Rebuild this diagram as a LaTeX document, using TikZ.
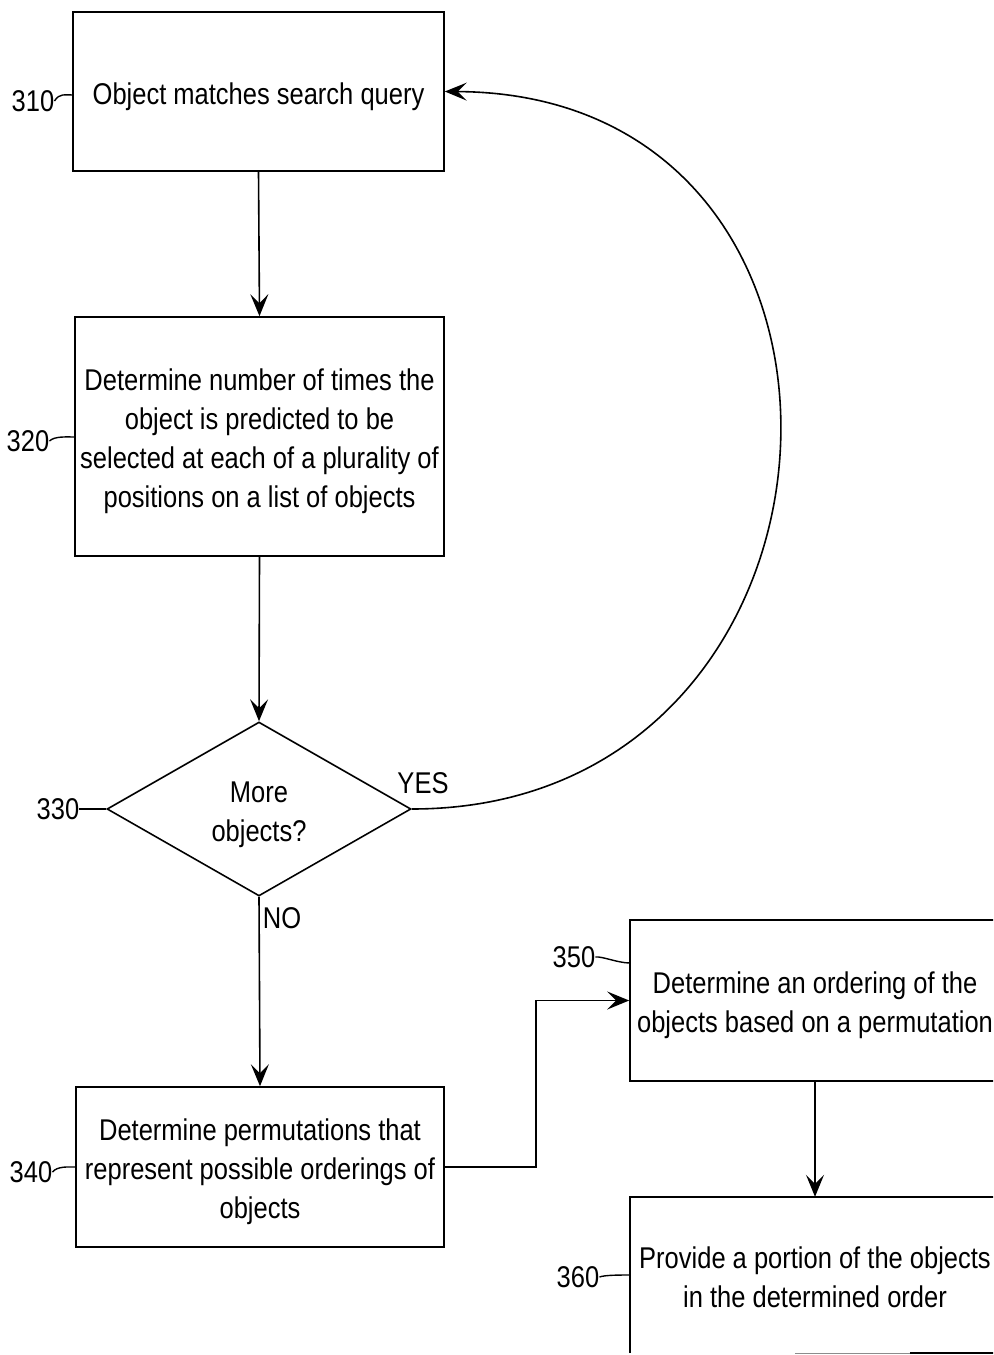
\documentclass[tikz,border=0pt]{standalone}
\usepackage{fontspec}
\setmainfont{Liberation Sans}[FakeStretch=0.85]
\usetikzlibrary{shapes.geometric,arrows.meta,calc}
\newcommand\boxtext[1]{\begin{tabular}{@{}c@{}}\rule{0pt}{37.3bp}#1\end{tabular}}
\begin{document}
\begin{tikzpicture}[x=1bp,y=-1bp,
  every node/.style={font=\fontsize{30bp}{39bp}\selectfont, inner sep=0pt},
  stepbox/.style={draw, line width=1.6bp, rectangle},
  decision/.style={draw, line width=1.6bp, diamond, aspect=1.747, minimum width=304bp, minimum height=174bp},
  conn/.style={line width=1.6bp},
  arr/.style={line width=1.6bp, -{Stealth[length=22bp,width=18bp,inset=9bp]}},
  lead/.style={line width=1.4bp}
]
\useasboundingbox (0,0) rectangle (993,1355);
\clip (0,0) rectangle (993,1355);

% boxes
\node[stepbox, minimum width=371bp, minimum height=159bp] (b310) at (258.5,91.5) {\boxtext{Object matches search query}};
\node[stepbox, minimum width=369bp, minimum height=239bp] (b320) at (259.5,436.5)
  {\boxtext{Determine number of times the\\object is predicted to be\\selected at each of a plurality of\\positions on a list of objects}};
\node[decision] (d330) at (259,809) {\boxtext{More\\objects?}};
\node[stepbox, minimum width=368bp, minimum height=160bp] (b340) at (260,1167)
  {\boxtext{Determine permutations that\\represent possible orderings of\\objects}};
\node[stepbox, minimum width=370bp, minimum height=161bp] (b350) at (815,1000.5)
  {\boxtext{Determine an ordering of the\\objects based on a permutation}};
\node[rectangle, minimum width=370bp, minimum height=156bp] (b360) at (815,1275)
  {\boxtext{Provide a portion of the objects\\in the determined order}};
\draw[conn] (b360.south west) -- (b360.north west) -- (b360.north east) -- (b360.south east);
\draw[line width=1.4bp, black!45] ($(b360.south west)+(165,0)$) -- ($(b360.south west)+(280,0)$);
\draw[conn] ($(b360.south west)+(280,0)$) -- (b360.south east);

% labels
\node (l310) at (33,101) {310};
\node (l320) at (28,441) {320};
\node (l330) at (58,809) {330};
\node (l340) at (31,1172) {340};
\node (l350) at (574,957) {350};
\node (l360) at (578,1277) {360};
\node (yes) at (423,783) {YES};
\node (no) at (282,918) {NO};

\coordinate (c310) at (73,95);
\coordinate (c320) at (75,437);
\coordinate (c340) at (76,1167);
\coordinate (c350) at (630,963);
\coordinate (c360) at (630,1275);
\draw[lead] (l310.east) .. controls +(5,-8) and +(-8,0) .. (c310);
\draw[lead] (l320.east) .. controls +(5,-5) and +(-8,0) .. (c320);
\draw[lead] (l330.east) -- (d330.west);
\draw[lead] (l340.east) .. controls +(5,-6) and +(-8,0) .. (c340);
\draw[lead] (l350.east) .. controls +(6,-1) and +(-12,0) .. (c350);
\draw[lead] (l360.east) .. controls +(5,-2) and +(-10,0) .. (c360);

% connectors
\draw[arr] (b310.south) -- (b320.north);
\draw[arr] (b320.south) -- (d330.north);
\draw[arr] (d330.south) -- (b340.north);
\draw[arr] (d330.east) .. controls (878,809) and (913,94) .. (b310.east);
\draw[arr] (b340.east) -- ++(91,0) |- (b350.west);
\draw[arr] (b350.south) -- (b360.north);
\end{tikzpicture}
\end{document}
